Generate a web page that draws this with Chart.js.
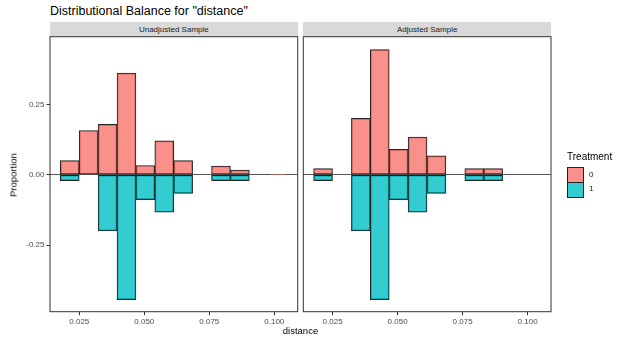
<!DOCTYPE html>
<html><head><meta charset="utf-8">
<script src="https://cdn.jsdelivr.net/npm/chart.js@4/dist/chart.umd.min.js"></script>
<style>
body{margin:0;width:624px;height:340px;position:relative;background:#fff;font-family:"Liberation Sans",Arial,sans-serif;overflow:hidden}
.abs{position:absolute;white-space:nowrap}
canvas{position:absolute;top:0}
.strip{position:absolute;background:#d9d9d9;height:15px;line-height:15px;font-size:8px;color:#1a1a1a;text-align:center}
</style></head><body>
<div class="abs" id="title" style="left:50px;top:4px;font-size:12.5px;line-height:15px;color:#000"></div>
<div class="strip" id="s1" style="left:50px;top:21.7px;width:247.7px"></div>
<div class="strip" id="s2" style="left:303.3px;top:21.7px;width:247.7px"></div>
<canvas id="c1" width="300" height="340" style="left:0"></canvas>
<canvas id="c2" width="324" height="340" style="left:300px"></canvas>
<div class="abs" id="ytitle" style="left:13px;top:175px;font-size:9.5px;transform:translate(-50%,-50%) rotate(-90deg);color:#000"></div>
<div class="abs" id="xtitle" style="left:300.5px;top:330px;font-size:9.5px;transform:translate(-50%,-50%);color:#000"></div>
<div class="abs" id="legtitle" style="left:567px;top:151px;font-size:10px;line-height:12px;color:#000"></div>
<div id="legend"></div>
<script>
// ---- data ----
const chartTitle = 'Distributional Balance for "distance"';
const panelTitles = ['Unadjusted Sample', 'Adjusted Sample'];
const xTitle = 'distance';
const yTitle = 'Proportion';
const legendTitle = 'Treatment';
const seriesNames = ['0', '1'];
// histogram bin centres (distance)
const binCenters = [0.02133, 0.02860, 0.03587, 0.04314, 0.05041, 0.05768, 0.06495, 0.07222, 0.07949, 0.08676, 0.09403, 0.10130];
// proportion of control (treatment 0), unadjusted sample
const unadjControl = [0.050, 0.157, 0.179, 0.361, 0.033, 0.120, 0.050, null, 0.031, 0.017, null, 0.001];
// proportion of control (treatment 0), adjusted sample
const adjControl = [0.022, null, 0.200, 0.444, 0.090, 0.134, 0.067, null, 0.022, 0.022, null, null];
// proportion of treated (treatment 1), drawn downward
const treated = [-0.021, null, -0.199, -0.443, -0.088, -0.133, -0.066, null, -0.021, -0.021, null, null];
const xTicks = [0.025, 0.05, 0.075, 0.1];
const xTickLabels = ['0.025', '0.050', '0.075', '0.100'];
const yTicks = [-0.25, 0, 0.25];
const yTickLabels = ['-0.25', '0.00', '0.25'];
const xRange = [0.01373, 0.109];
const yRange = [-0.486, 0.49];

// ---- styles ----
const fillColors = ['rgba(248,118,109,0.8)', 'rgba(0,191,196,0.8)'];
const tickFont = {family: '"Liberation Sans", Arial, sans-serif', size: 8};
const tickColor = '#4d4d4d';

document.getElementById('title').textContent = chartTitle;
document.getElementById('s1').textContent = panelTitles[0];
document.getElementById('s2').textContent = panelTitles[1];
document.getElementById('xtitle').textContent = xTitle;
document.getElementById('ytitle').textContent = yTitle;
document.getElementById('legtitle').textContent = legendTitle;
const leg = document.getElementById('legend');
seriesNames.forEach((n, i) => {
  const sw = document.createElement('div');
  sw.className = 'abs';
  sw.style.cssText = `left:567.3px;top:${167.3 + i * 14.7}px;width:16.4px;height:${15.7}px;box-sizing:border-box;border:1px solid #222;background:${fillColors[i]}`;
  leg.appendChild(sw);
  const lb = document.createElement('div');
  lb.className = 'abs';
  lb.style.cssText = `left:589px;top:${174.5 + i * 14.7}px;font-size:8px;line-height:10px;transform:translateY(-50%);color:#1a1a1a`;
  lb.textContent = n;
  leg.appendChild(lb);
});

const borderPlugin = {
  id: 'panelBorder',
  afterDraw(chart) {
    const {ctx, chartArea: a} = chart;
    ctx.save();
    ctx.strokeStyle = '#333';
    ctx.lineWidth = 1;
    ctx.strokeRect(a.left, a.top, a.right - a.left, a.bottom - a.top);
    ctx.restore();
  }
};

function makePanel(id, control, showY, padding) {
  const mk = (vals, i) => ({
    label: seriesNames[i],
    data: binCenters.map((c, k) => ({x: c, y: vals[k]})),
    backgroundColor: fillColors[i],
    borderColor: '#222',
    borderWidth: 1,
    borderSkipped: false,
    grouped: false,
    barPercentage: 1,
    categoryPercentage: 1
  });
  return new Chart(document.getElementById(id), {
    type: 'bar',
    data: {datasets: [mk(control, 0), mk(treated, 1)]},
    options: {
      responsive: false,
      animation: false,
      devicePixelRatio: 1,
      layout: {padding},
      plugins: {legend: {display: false}, tooltip: {enabled: false}, title: {display: false}},
      scales: {
        x: {
          type: 'linear',
          min: xRange[0], max: xRange[1],
          offset: false,
          afterBuildTicks: s => { s.ticks = xTicks.map(v => ({value: v})); },
          afterFit: s => { s.height = 28.3; },
          ticks: {font: tickFont, color: tickColor, padding: 1.5, maxRotation: 0, autoSkip: false,
            callback: (v, i) => xTickLabels[i]},
          grid: {drawOnChartArea: false, drawTicks: true, tickLength: 3.5, tickColor: '#333', offset: false},
          border: {display: false}
        },
        y: {
          type: 'linear',
          min: yRange[0], max: yRange[1],
          z: 1,
          afterBuildTicks: s => { s.ticks = yTicks.map(v => ({value: v})); },
          afterFit: s => { s.width = showY ? 50 : 0; },
          ticks: {display: showY, font: tickFont, color: tickColor, padding: 2,
            callback: (v, i) => yTickLabels[i]},
          grid: {
            drawTicks: showY, tickLength: 3.5, tickColor: '#333', lineWidth: 1,
            color: ctx => (ctx.tick && ctx.tick.value === 0) ? '#555' : 'rgba(0,0,0,0)'
          },
          border: {display: false}
        }
      }
    },
    plugins: [borderPlugin]
  });
}

makePanel('c1', unadjControl, true, {top: 36.7, right: 2.3, bottom: 0, left: 0});
makePanel('c2', adjControl, false, {top: 36.7, right: 73, bottom: 0, left: 3.3});
</script>
</body></html>
